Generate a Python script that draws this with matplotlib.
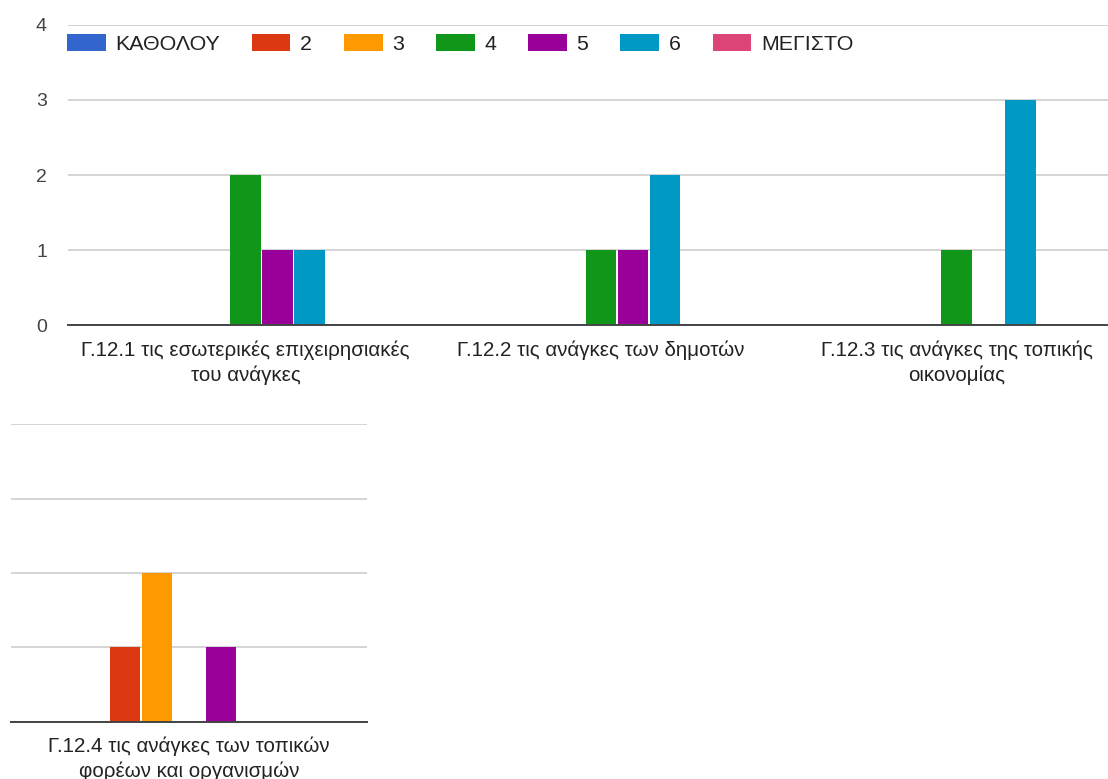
import matplotlib
matplotlib.use("Agg")
import matplotlib.pyplot as plt
import numpy as np

plt.rcParams['font.family'] = ['Liberation Sans', 'DejaVu Sans']

# Response scale (series) and the statements rated (categories)
series_names = ["ΚΑΘΟΛΟΥ", "2", "3", "4", "5", "6", "ΜΕΓΙΣΤΟ"]
series_colors = ["#3366CC", "#DC3912", "#FF9900", "#109618", "#990099", "#0099C6", "#DD4477"]
categories = [
    "Γ.12.1 τις εσωτερικές επιχειρησιακές\nτου ανάγκες",
    "Γ.12.2 τις ανάγκες των δημοτών",
    "Γ.12.3 τις ανάγκες της τοπικής\nοικονομίας",
    "Γ.12.4 τις ανάγκες των τοπικών\nφορέων και οργανισμών",
]
# Counts per response level, one value per category
vals_katholou = [0, 0, 0, 0]
vals_2 = [0, 0, 0, 1]
vals_3 = [0, 0, 0, 2]
vals_4 = [2, 1, 1, 0]
vals_5 = [1, 1, 0, 1]
vals_6 = [1, 2, 3, 0]
vals_megisto = [0, 0, 0, 0]
series_values = [vals_katholou, vals_2, vals_3, vals_4, vals_5, vals_6, vals_megisto]
y_ticks = [0, 1, 2, 3, 4]

W, H = 1108, 779
fig = plt.figure(figsize=(W / 100, H / 100), dpi=100)

def px_axes(left, right, top, bottom):
    return fig.add_axes([left / W, 1 - bottom / H, (right - left) / W, (bottom - top) / H])

# first row holds three categories (the row runs past the right edge), second row one
ax_top = px_axes(67.75, 67.75 + 3 * 355.5, 24.5, 325.5)
ax_bot = px_axes(11, 11 + 356, 424.3, 721.7)

step = 0.09
bar_w = 0.085
label_size = 14.8
tick_size = 14
tick_color = "#444444"
text_color = "#222222"

def draw_panel(ax, cat_idx, show_yticks, xpad):
    x = np.arange(len(cat_idx))
    handles = []
    for i, (name, col, vals) in enumerate(zip(series_names, series_colors, series_values)):
        v = [vals[c] for c in cat_idx]
        h = ax.bar(x + (i - 3) * step, v, width=bar_w, color=col, label=name, zorder=3)
        handles.append(h)
    ax.set_xlim(-0.5, len(cat_idx) - 0.5)
    ax.set_ylim(0, 4)
    ax.set_yticks(y_ticks)
    ax.yaxis.grid(True, color="#d4d4d4", linewidth=1.4, zorder=0)
    ax.set_axisbelow(True)
    for s in ["top", "right", "left"]:
        ax.spines[s].set_visible(False)
    ax.spines["bottom"].set_color("#444444")
    ax.spines["bottom"].set_linewidth(1.4)
    ax.spines["bottom"].set_zorder(4)
    ax.set_xticks(x)
    ax.set_xticklabels([categories[c] for c in cat_idx], fontsize=label_size,
                       color=text_color, linespacing=1.36)
    ax.tick_params(axis="x", length=0, pad=xpad)
    if show_yticks:
        ax.tick_params(axis="y", length=0, pad=15, labelsize=tick_size, labelcolor=tick_color)
    else:
        ax.tick_params(axis="y", length=0, labelleft=False)
    return handles

handles = draw_panel(ax_top, [0, 1, 2], True, 10.5)
draw_panel(ax_bot, [3], False, 10.5)

ax_top.legend(handles=handles, labels=series_names, loc="upper left",
              bbox_to_anchor=(67 / W, 1 - 34 / H), bbox_transform=fig.transFigure,
              ncol=7, frameon=False, fontsize=15.4, handlelength=1.8, handleheight=0.85,
              handletextpad=0.45, columnspacing=1.5, borderpad=0, borderaxespad=0,
              labelcolor=text_color)

fig.savefig("out.png", dpi=100)
